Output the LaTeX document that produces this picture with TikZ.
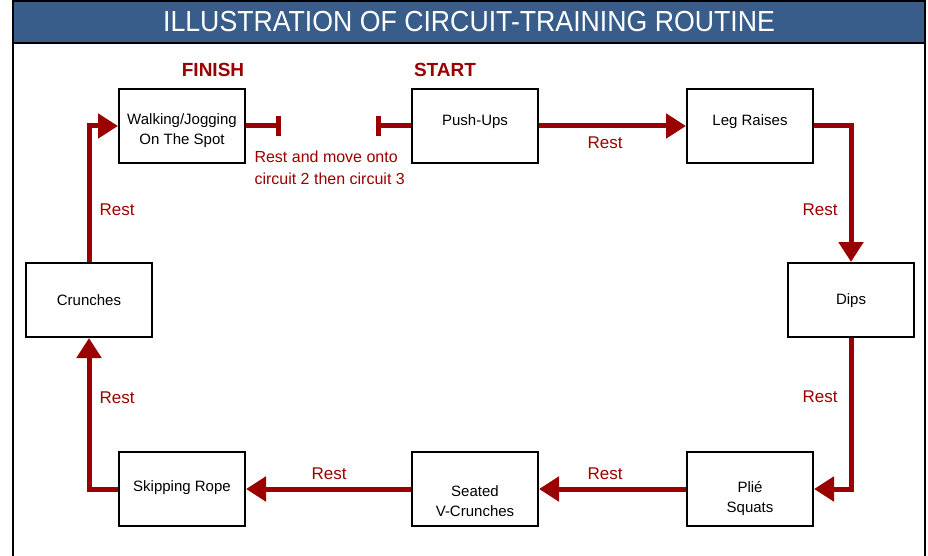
\documentclass[tikz,border=0pt]{standalone}
\usepackage{fontspec}
\setmainfont{Liberation Sans}
\usetikzlibrary{arrows.meta}
\definecolor{titleblue}{RGB}{56,93,138}
\definecolor{restred}{RGB}{155,0,0}
\tikzset{
  exbox/.style={draw=black, line width=2pt, fill=white, minimum width=126pt, minimum height=74pt},
  boxtext/.style={align=center, inner sep=1pt, font=\fontsize{15}{20}\selectfont},
  restline/.style={draw=restred, line width=5pt, -{Triangle[length=20pt,width=24pt]}},
  barline/.style={draw=restred, line width=5pt, -{Rectangle[length=5pt,width=20pt]}},
  restlabel/.style={text=restred, font=\fontsize{17}{22}\selectfont},
  marklabel/.style={text=restred, font=\bfseries\fontsize{19}{22}\selectfont},
}
\begin{document}
\begin{tikzpicture}[x=1pt, y=-1pt, line join=miter]
  \useasboundingbox (0,0) rectangle (928,556);
  % frame and title bar
  \draw[line width=2.5pt] (13,570)--(13,1)--(925,1)--(925,570);
  \filldraw[fill=titleblue, draw=black, line width=2.5pt] (13,1) rectangle (925,43);
  \node[text=white, font=\fontsize{29}{30}\selectfont, xscale=0.92] (title) at (469,22) {ILLUSTRATION OF CIRCUIT-TRAINING ROUTINE};

  % exercises
  \path
  (182,126) node[exbox] (walk) {}
  (475,126) node[exbox] (push) {}
  (750,126) node[exbox] (leg) {}
  (851,300) node[exbox] (dips) {}
  (750,489) node[exbox] (plie) {}
  (475,489) node[exbox] (seated) {}
  (182,489) node[exbox] (skip) {}
  (89,300) node[exbox] (crunch) {};
  \path
  (182,131) node[boxtext] (walktxt) {Walking/Jogging\\On The Spot}
  (475,122) node[boxtext] (pushtxt) {Push-Ups}
  (750,122) node[boxtext] (legtxt) {Leg Raises}
  (851,301) node[boxtext] (dipstxt) {Dips}
  (750,499) node[boxtext] (plietxt) {Plié\\Squats}
  (475,501) node[boxtext] (seatedtxt) {Seated\\V-Crunches}
  (182,488) node[boxtext] (skiptxt) {Skipping Rope}
  (89,300) node[boxtext] (crunchtxt) {Crunches};

  \node[marklabel] (finish) at (213,70) {FINISH};
  \node[marklabel] (start) at (445,70) {START};

  % rests
  \draw[restline] (push.east) -- (leg.west);
  \draw[restline] (leg.east) -| (dips.north);
  \draw[restline] (dips.south) |- (plie.east);
  \draw[restline] (plie.west) -- (seated.east);
  \draw[restline] (seated.west) -- (skip.east);
  \draw[restline] (skip.west) -| (crunch.south);
  \draw[restline] (crunch.north) |- (walk.west);

  \coordinate (walkend) at (281,126);
  \coordinate (pushend) at (376,126);
  \draw[barline] (walk.east) -- (walkend);
  \draw[barline] (push.west) -- (pushend);

  \path
  (605,143) node[restlabel] (r1) {Rest}
  (820,210) node[restlabel] (r2) {Rest}
  (820,397) node[restlabel] (r3) {Rest}
  (605,474) node[restlabel] (r4) {Rest}
  (329,474) node[restlabel] (r5) {Rest}
  (117,398) node[restlabel] (r6) {Rest}
  (117,210) node[restlabel] (r7) {Rest};
  \node[restlabel, align=left, anchor=west, font=\fontsize{16}{22}\selectfont] (move) at (251,168) {Rest and move onto\\circuit 2 then circuit 3};
\end{tikzpicture}
\end{document}
